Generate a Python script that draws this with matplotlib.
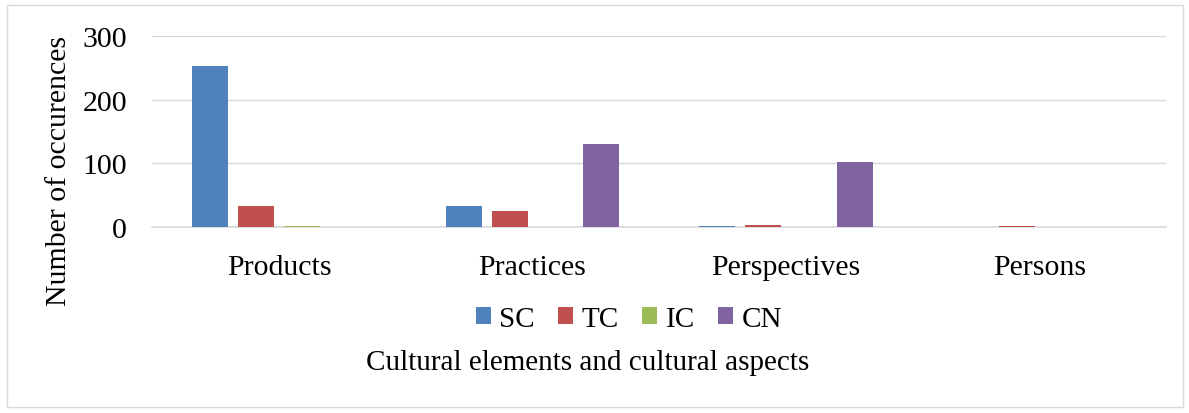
import matplotlib.pyplot as plt
import numpy as np
from matplotlib.patches import Rectangle

# data
categories = ['Products', 'Practices', 'Perspectives', 'Persons']
series = ['SC', 'TC', 'IC', 'CN']
sc = [253, 33, 1, 0]
tc = [33, 25, 4, 1]
ic = [1, 0, 0, 0]
cn = [0, 130, 102, 0]
colors = ['#4F81BD', '#C0504D', '#9BBB59', '#8064A2']

plt.rcParams['font.family'] = ['Liberation Serif', 'DejaVu Serif']

fig = plt.figure(figsize=(11.89, 4.14), dpi=100)
ax = fig.add_axes([0.128, 0.449, 0.853, 0.462])

x = np.arange(len(categories))
width = 0.142
step = 0.181
for i, (vals, name) in enumerate(zip([sc, tc, ic, cn], series)):
    ax.bar(x + (i - 1.5) * step, vals, width, color=colors[i], label=name, zorder=3)

ax.set_xlim(-0.5, len(categories) - 0.5)
ax.set_ylim(0, 300)
ax.set_yticks([0, 100, 200, 300])
ax.set_xticks(x)
ax.set_xticklabels(categories)
ax.tick_params(axis='both', length=0, labelsize=21.5, colors='black')
ax.tick_params(axis='x', pad=19)
ax.tick_params(axis='y', pad=18)
ax.grid(axis='y', color='#d9d9d9', linewidth=1, zorder=0)
for s in ['top', 'right', 'left']:
    ax.spines[s].set_visible(False)
ax.spines['bottom'].set_color('#d9d9d9')
ax.spines['bottom'].set_linewidth(1.2)

ax.set_ylabel('Number of occurences', fontsize=21.5)
ax.yaxis.set_label_coords(-0.079, 0.3)

fig.legend(loc='center', bbox_to_anchor=(0.529, 0.228), ncol=4, frameon=False,
           fontsize=21, handlelength=0.5, handleheight=0.5, handletextpad=0.3,
           columnspacing=0.8)
fig.text(0.494, 0.123, 'Cultural elements and cultural aspects', ha='center', va='center', fontsize=21)

# outer frame
fig.patches.append(Rectangle((0.006, 0.015), 0.989, 0.97, transform=fig.transFigure,
                             fill=False, edgecolor='#d9d9d9', linewidth=1))

fig.savefig('out.png', dpi=100)
